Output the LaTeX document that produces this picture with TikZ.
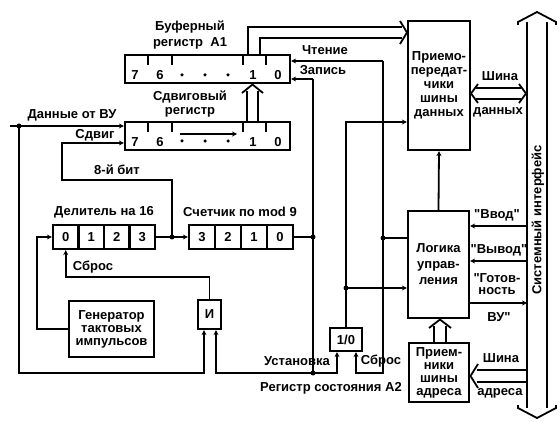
\documentclass[tikz,border=0pt]{standalone}
\usepackage{fontspec}
\setmainfont{Liberation Sans}
\usetikzlibrary{arrows.meta,calc}
\newcommand{\qq}{\textquotedbl}
\begin{document}
\begin{tikzpicture}[x=1pt,y=-1pt,
  font=\bfseries\fontsize{13}{14}\selectfont,
  line width=1.8pt,
  box/.style={draw,line width=2.2pt,inner sep=0pt,align=center},
  cell/.style={draw,line width=2.2pt,minimum height=24pt,inner sep=0pt},
  sig/.style={-{Stealth[length=5pt,width=5pt]}},
  jdot/.style={circle,fill,inner sep=0pt,minimum size=5pt},
  bdot/.style={circle,fill,inner sep=0pt,minimum size=3.5pt},
  lbl/.style={inner sep=0pt,align=center},
  tick/.style={line width=2pt},
]
\useasboundingbox (0,0) rectangle (560,422);

% ---------- registers A1 and shift register ----------
\node[box,minimum width=165pt,minimum height=28pt] (A1) at (207.5,69) {};
\node[box,minimum width=165pt,minimum height=28pt] (SR) at (207.5,136) {};
\foreach \x in {148,172,243,266} {
  \draw[tick] (\x,55) -- (\x,65);
  \draw[tick] (\x,122) -- (\x,132);
}
\foreach \y/\n in {75.5/a,142/s} {
  \node[lbl] (d7\n) at (135,\y) {7};
  \node[lbl] (d6\n) at (160,\y) {6};
  \node[lbl] (d1\n) at (253,\y) {1};
  \node[lbl] (d0\n) at (278,\y) {0};
}
\foreach \x in {182,205,228} {
  \node[bdot] at (\x,75) {};
  \node[bdot] at (\x,141) {};
}
\draw[sig] (180,134) -- (237,134);

\node[lbl] (tA1a) at (190,27) {Буферный};
\node[lbl] (tA1b) at (190,43) {регистр~~А1};
\node[lbl] (tSRa) at (190,97) {Сдвиговый};
\node[lbl] (tSRb) at (190,112) {регистр};

% ---------- divider and counter ----------
\foreach \i/\t in {0/0,1/1,2/2,3/3} {
  \node[cell,minimum width=25.5pt] (dv\i) at ({65.75+25.5*\i},237) {\t};
}
\foreach \i/\t in {0/3,1/2,2/1,3/0} {
  \node[cell,minimum width=26pt] (ct\i) at ({202+26*\i},237) {\t};
}
\node[lbl] at (104,212) {Делитель на 16};
\node[lbl] at (240,212) {Счетчик по mod 9};

% ---------- other blocks ----------
\node[box,minimum width=85pt,minimum height=56pt,font=\bfseries\fontsize{13}{13}\selectfont] (GN) at (111.5,329) {Генератор\\тактовых\\импульсов};
\node[box,minimum width=23pt,minimum height=29pt] (AND) at (209.5,314.5) {И};
\node[box,minimum width=32pt,minimum height=23pt] (ST) at (346,339.5) {1/0};
\node[box,minimum width=62pt,minimum height=129pt] (TR) at (439,85.5) {Приемо-\\передат-\\чики\\шины\\данных};
\node[box,minimum width=61pt,minimum height=107pt,font=\bfseries\fontsize{13}{16}\selectfont] (LG) at (438.5,264.5) {Логика\\управ-\\ления};
\node[box,minimum width=60pt,minimum height=59pt,font=\bfseries\fontsize{13}{13}\selectfont] (RC) at (439,372.5) {Прием-\\ники\\шины\\адреса};

% ---------- data input and shift ----------
\coordinate (din) at (10,126);
\node[jdot] (jL) at (19,126) {};
\draw[sig] (din) -- (din -| SR.west);
\node[lbl] at (72,115) {Данные от ВУ};
\node[lbl] at (95,135) {Сдвиг};
\node[lbl] at (117,170) {8-й бит};

\node[jdot] (j8) at (172,237) {};
\draw[sig] (dv3.east) -- (ct0.west);
\coordinate (c8a) at (172,180);
\coordinate (c8b) at (62,143);
\draw[sig] (j8.center) -- (c8a) -| (c8b) -- (c8b -| SR.west);

% ---------- bottom line, AND gate, status register ----------
\coordinate (bot) at (0,373);
\node[jdot] (jU) at (313,373) {};
\draw[sig] (jL.center) -- (jL |- bot) -| ([xshift=-5.5pt]AND.south);
\draw[sig] (jU.center) -| ([xshift=6.5pt]AND.south);
\draw[sig] (jU.center) -| ([xshift=-9pt]ST.south);
\coordinate (rs) at (0,277);
\draw[sig] (AND.north) |- (dv0.south |- rs) -- (dv0.south);
\node[lbl] at (93,267) {Сброс};
\coordinate (gx) at (37,0);
\draw[sig] (GN.west) -| (gx |- dv0) -- (dv0.west);

\node[lbl] at (297,361) {Установка};
\node[lbl] at (381,361) {Сброс};
\node[lbl] at (331,388) {Регистр состояния А2};

% ---------- write / read lines ----------
\coordinate (zap) at (313,79);
\node[jdot] (jZ) at (313,237) {};
\draw (ct3.east) -- (jZ.center);
\draw[sig] (zap) -- (zap -| A1.east);
\draw (zap) -- (jU.center);
\node[lbl] at (323,70) {Запись};

\coordinate (cht) at (383,61);
\node[jdot] (jC) at (383,238) {};
\draw[sig] (cht) -- (cht -| A1.east);
\draw (jC.center) -- (jC -| LG.west);
\draw[sig] (cht) -- (cht |- bot) -| ([xshift=10pt]ST.south);
\node[lbl] at (325,50) {Чтение};

\coordinate (trin) at (0,122);
\node[jdot] (jS) at (346,288) {};
\draw[sig] (ST.north) |- (TR.west |- trin);
\draw[sig] (jS.center) -- (jS -| LG.west);

% ---------- A1 <-> transceivers, SR -> A1 ----------
\draw (248,55) -- (248,27) -- (402,27);
\draw (260,55) -- (260,38) -- (402,38);
\draw (400,21) -- (407,32.5) -- (400,44);

\draw (247,121) -- (247,91);
\draw (258,121) -- (258,91);
\draw (242,93) -- (252.5,84.5) -- (263,93);

% ---------- logic connections ----------
\draw[sig] (LG.north) -- (TR.south);
\draw (434,343) -- (434,326);
\draw (446,343) -- (446,326);
\draw (429,328) -- (440,319.5) -- (451,328);

% ---------- system bus ----------
\draw (527,22) -- (527,408);
\draw (547,22) -- (547,408);
\draw (518,25) -- (518,22) -- (537,12) -- (556,22) -- (556,25);
\draw (518,405) -- (518,408) -- (537,418) -- (556,408) -- (556,405);
\node[lbl,rotate=90] at (538,220) {Системный интерфейс};

% data bus
\draw (476,88) -- (521,88);
\draw (476,99) -- (521,99);
\draw (478,84) -- (471,93.5) -- (478,103);
\draw (519,84) -- (526,93.5) -- (519,103);
\node[lbl] at (500,76) {Шина};
\node[lbl] at (498,112) {данных};

% control lines
\coordinate (bv) at (527,226);
\coordinate (bw) at (527,261);
\coordinate (gt) at (527,303);
\draw[sig] (bv) -- (bv -| LG.east);
\draw[sig] (bw) -- (bw -| LG.east);
\draw[sig] (gt -| LG.east) -- (gt);
\node[lbl] at (497,215) {\qq Ввод\qq};
\node[lbl] at (499,250) {\qq Вывод\qq};
\node[lbl] at (497,278) {\qq Готов-};
\node[lbl] at (497,291) {ность};
\node[lbl] at (499,317) {ВУ\qq};

% address bus
\draw (477,370) -- (527,370);
\draw (477,382) -- (527,382);
\draw (478,364) -- (470.5,376) -- (478,388);
\node[lbl] at (501,358) {Шина};
\node[lbl] at (500,393) {адреса};
\end{tikzpicture}
\end{document}
